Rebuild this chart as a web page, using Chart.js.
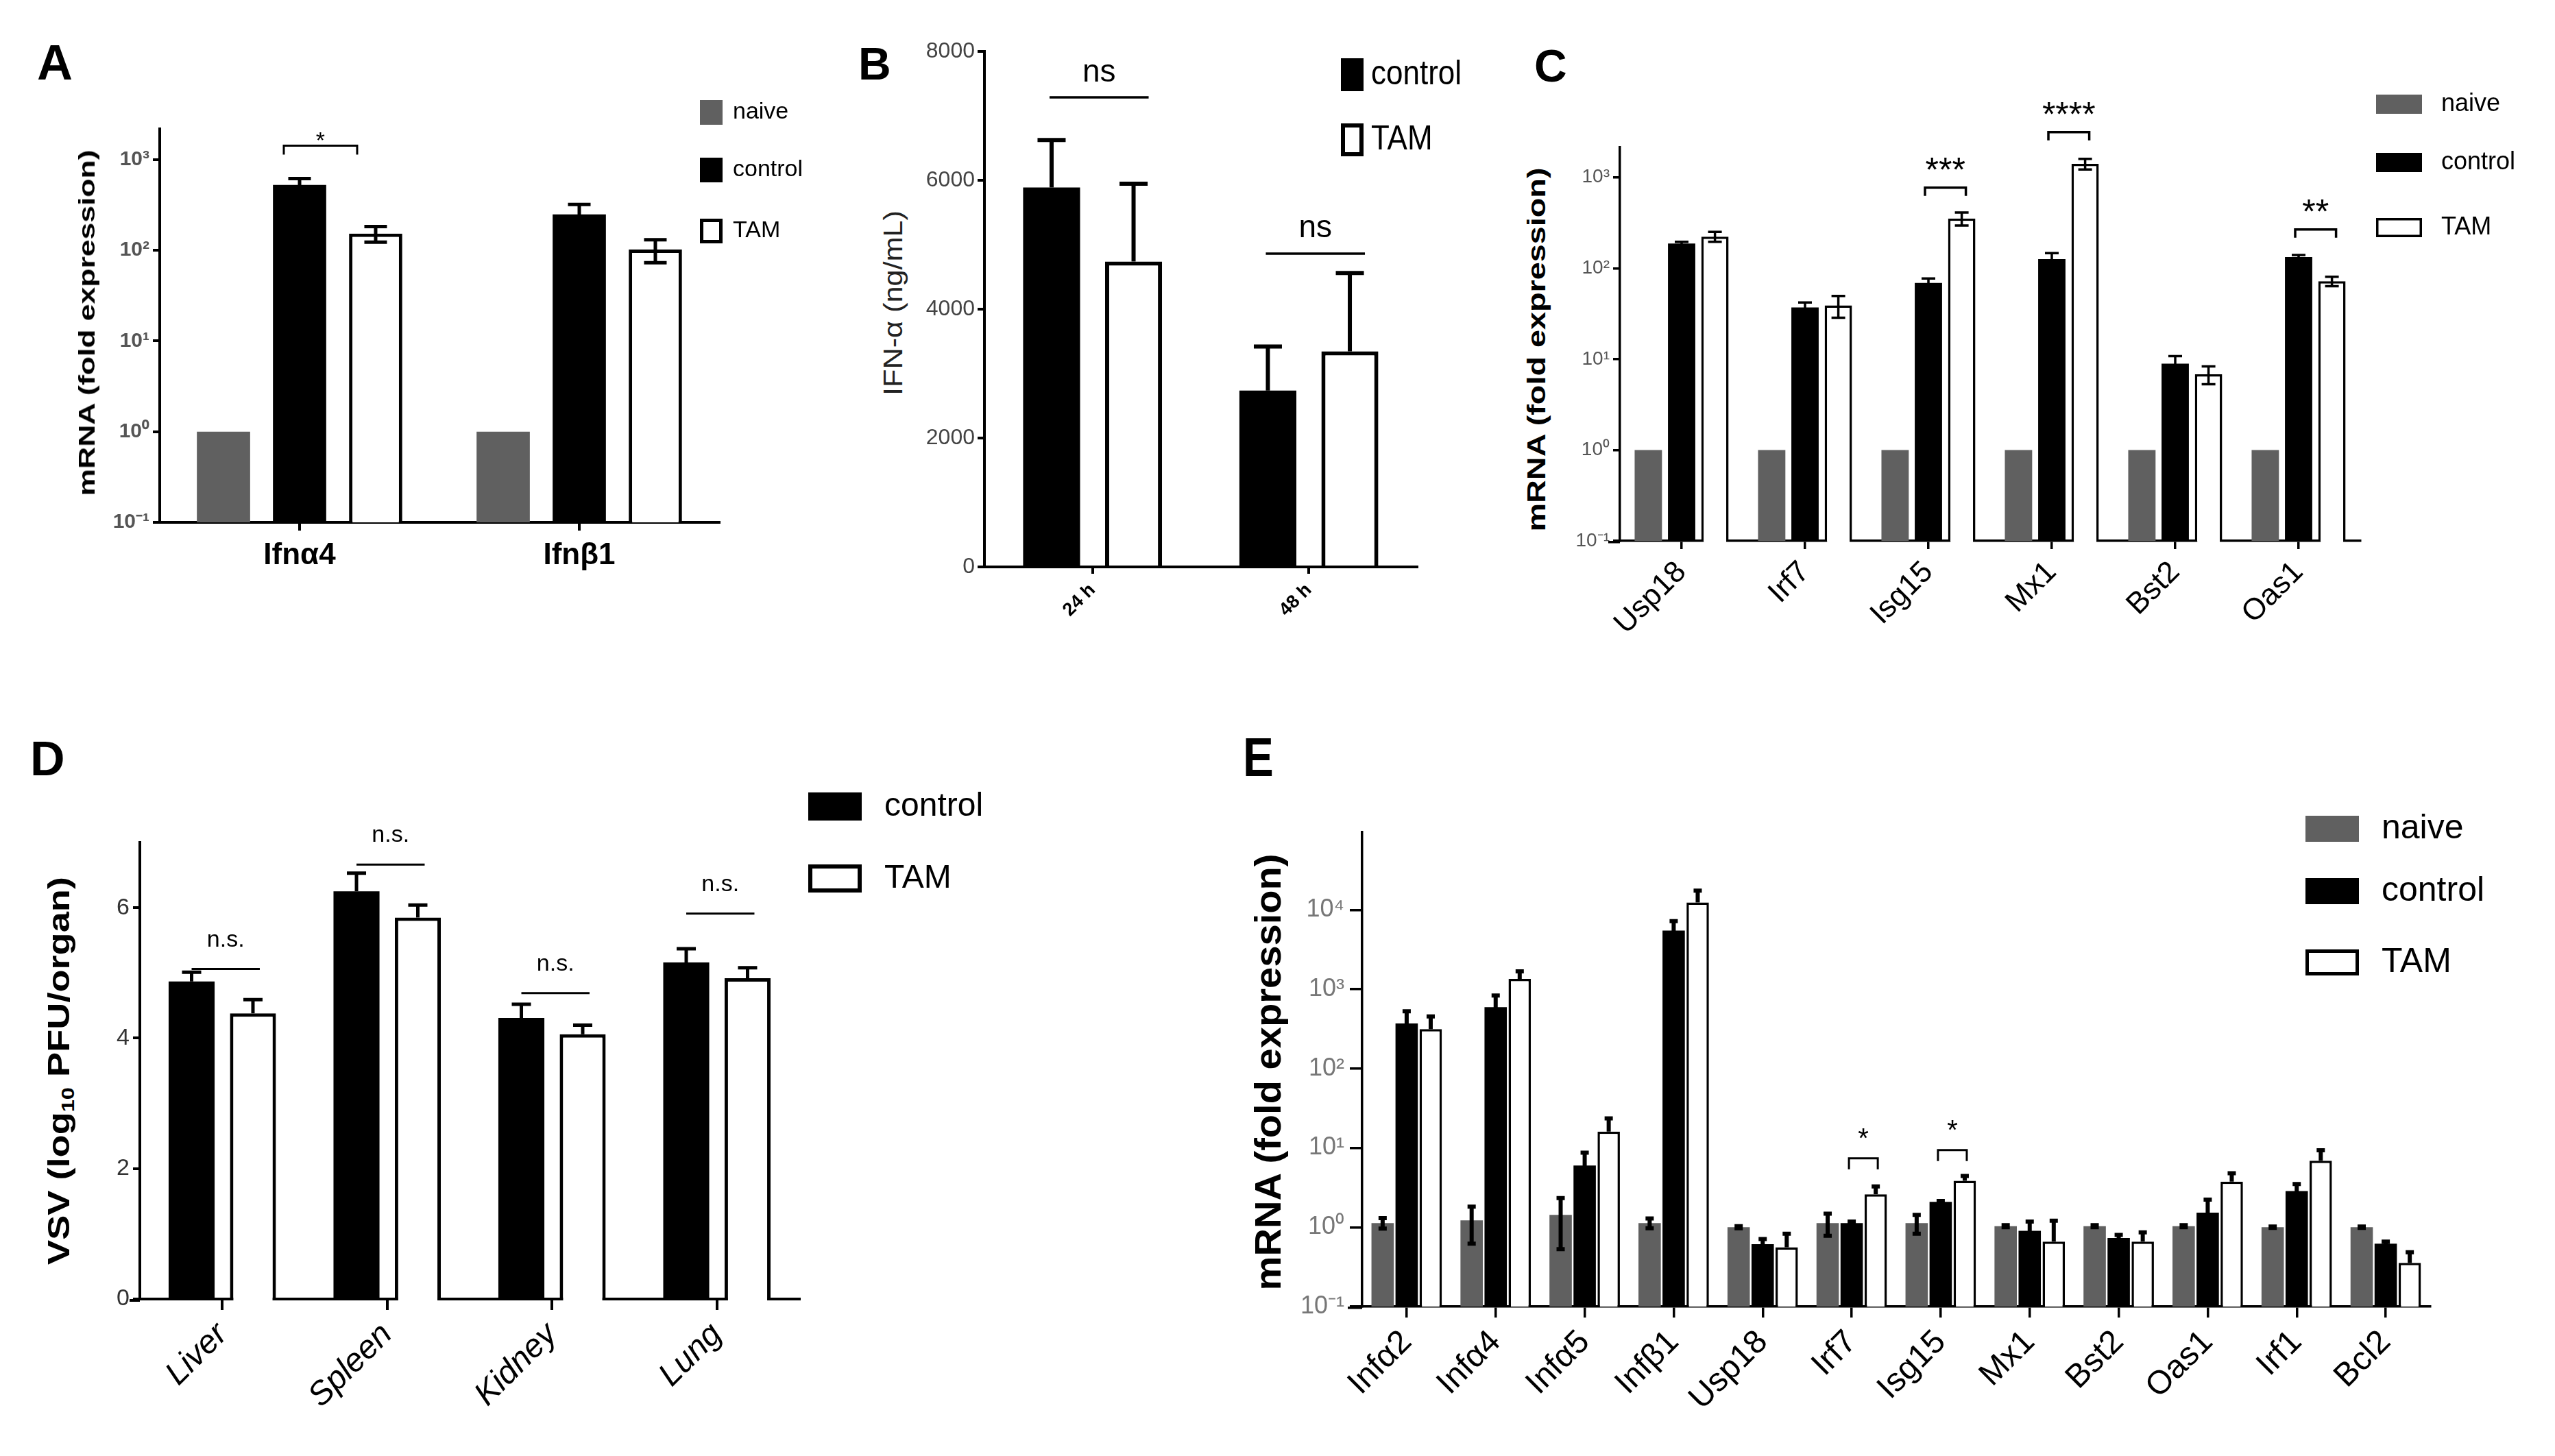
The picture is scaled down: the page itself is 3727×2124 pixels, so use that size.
<!DOCTYPE html>
<html>
<head>
<meta charset="utf-8">
<script src="https://cdn.jsdelivr.net/npm/chart.js@4.4.1/dist/chart.umd.min.js"></script>
<style>
  html, body { margin: 0; padding: 0; background: #fff; }
  #page { position: relative; width: 3727px; height: 2124px; overflow: hidden; background: #fff; }
  #page canvas { position: absolute; }
  .lbl { position: absolute; white-space: nowrap; color: #000; line-height: 1; }
</style>
</head>
<body>
<div id="page"></div>
<script>
// ================= DATA =================
// Panel A
const catsA = ['Ifnα4', 'Ifnβ1'];
const naiveA = [1, 1];
const controlA = [528, 249];
const controlAErr = [92, 72];
const tamA = [153, 102];
const tamAErr = [30, 29];

// Panel B
const catsB = ['24 h', '48 h'];
const controlB = [5887, 2736];
const controlBErr = [739, 684];
const tamB = [4739, 3347];
const tamBErr = [1209, 1215];
const ticksB = [0, 2000, 4000, 6000, 8000];

// Panel C
const catsC = ['Usp18', 'Irf7', 'Isg15', 'Mx1', 'Bst2', 'Oas1'];
const naiveC = [1, 1, 1, 1, 1, 1];
const controlC = [187, 37, 69, 126, 8.9, 133];
const controlCErr = [8, 5, 8, 21, 1.9, 7];
const tamC = [223, 39, 353, 1410, 6.8, 72];
const tamCErr = [28, 10.5, 58, 190, 1.5, 8.5];

// Panel D
const catsD = ['Liver', 'Spleen', 'Kidney', 'Lung'];
const controlD = [4.87, 6.25, 4.31, 5.16];
const controlDErr = [0.14, 0.28, 0.21, 0.21];
const tamD = [4.38, 5.85, 4.06, 4.92];
const tamDErr = [0.21, 0.19, 0.14, 0.16];
const ticksD = [0, 2, 4, 6];

// Panel E
const catsE = ['Infα2', 'Infα4', 'Infα5', 'Infβ1', 'Usp18', 'Irf7', 'Isg15', 'Mx1', 'Bst2', 'Oas1', 'Irf1', 'Bcl2'];
const naiveE = [1.13, 1.22, 1.43, 1.13, 1.0, 1.13, 1.13, 1.03, 1.03, 1.03, 1.0, 1.0];
const naiveEErr = [0.17, 0.6, 0.9, 0.16, 0.03, 0.35, 0.3, 0.03, 0.03, 0.03, 0.02, 0.02];
const controlE = [371, 596, 6.0, 5490, 0.61, 1.13, 2.09, 0.90, 0.73, 1.53, 2.86, 0.62];
const controlEErr = [157, 239, 2.7, 1740, 0.1, 0.05, 0.05, 0.28, 0.07, 0.7, 0.64, 0.04];
const tamE = [314, 1348, 16.1, 12450, 0.56, 2.6, 3.85, 0.66, 0.66, 3.75, 6.9, 0.355];
const tamEErr = [141, 332, 7.5, 5050, 0.27, 0.67, 0.57, 0.55, 0.2, 1.04, 2.45, 0.13];

// log tick values / labels
const logTicks3 = [0.1, 1, 10, 100, 1000];
const logTicks4 = [0.1, 1, 10, 100, 1000, 10000];
const logTickLabels = ['10⁻¹', '10⁰', '10¹', '10²', '10³', '10⁴'];

// significance marks (value in data units on the y axis)
const sigA = [{ cat: 0, from: 1, to: 2, value: 1428, text: '*' }];
const sigB = [{ cat: 0, from: 0, to: 1, value: 7287, text: 'ns' }, { cat: 1, from: 0, to: 1, value: 4862, text: 'ns' }];
const sigC = [{ cat: 2, from: 1, to: 2, value: 771, text: '***' }, { cat: 3, from: 1, to: 2, value: 3150, text: '****' }, { cat: 5, from: 1, to: 2, value: 267, text: '**' }];
const sigD = [{ cat: 0, from: 0, to: 1, value: 5.06, text: 'n.s.' }, { cat: 1, from: 0, to: 1, value: 6.66, text: 'n.s.' }, { cat: 2, from: 0, to: 1, value: 4.69, text: 'n.s.' }, { cat: 3, from: 0, to: 1, value: 5.91, text: 'n.s.' }];
const sigE = [{ cat: 5, from: 1, to: 2, value: 7.4, text: '*' }, { cat: 6, from: 1, to: 2, value: 9.4, text: '*' }];

// ================= STYLE / HELPERS =================
const FONT = "'Liberation Sans', Arial, sans-serif";
const NAIVE = '#606060';
const page = document.getElementById('page');

function logLabel(ticks) {
  return v => { const i = ticks.indexOf(v); return i >= 0 ? logTickLabels[i] : ''; };
}

function naiveSet(data, err, lbl) {
  return { label: lbl || 'naive', data, errors: err || null, backgroundColor: NAIVE, borderWidth: 0 };
}
function controlSet(data, err) {
  return { label: 'control', data, errors: err, backgroundColor: '#000', borderWidth: 0 };
}
function tamSet(data, err, bw, upOnly) {
  return { label: 'TAM', data, errors: err, errUpOnly: !!upOnly, backgroundColor: '#fff', borderColor: '#000', borderWidth: bw };
}

const errorBars = {
  id: 'errorBars',
  afterDatasetsDraw(chart, args, o) {
    const ctx = chart.ctx, ys = chart.scales.y, ca = chart.chartArea;
    chart.data.datasets.forEach((d, i) => {
      const meta = chart.getDatasetMeta(i);
      // open (white) bars hide the axis line underneath them
      if (o.cover && d.borderWidth) {
        meta.data.forEach(bar => {
          ctx.save();
          ctx.fillStyle = '#fff';
          ctx.fillRect(bar.x - bar.width / 2 + d.borderWidth, ca.bottom - 2, bar.width - 2 * d.borderWidth, o.coverH);
          ctx.restore();
        });
      }
      if (!d.errors) return;
      meta.data.forEach((bar, j) => {
        const e = d.errors[j];
        if (!e) return;
        const v = d.data[j];
        const x = bar.x;
        const yTop = ys.getPixelForValue(v + e);
        const up = d.errUpOnly || o.upOnly;
        const lowV = v - e;
        const yBot = up ? bar.y : ys.getPixelForValue(Math.max(lowV, ys.min));
        ctx.save();
        ctx.strokeStyle = '#000';
        ctx.lineWidth = o.width;
        ctx.beginPath();
        ctx.moveTo(x, yTop); ctx.lineTo(x, yBot);
        ctx.moveTo(x - o.cap / 2, yTop); ctx.lineTo(x + o.cap / 2, yTop);
        if (!up && lowV > ys.min) { ctx.moveTo(x - o.cap / 2, yBot); ctx.lineTo(x + o.cap / 2, yBot); }
        ctx.stroke();
        ctx.restore();
      });
    });
  }
};

const boxLegend = {
  id: 'boxLegend',
  afterDraw(chart, args, o) {
    if (!o || !o.ys) return;
    const ctx = chart.ctx;
    chart.data.datasets.forEach((d, i) => {
      const bx = o.x - o.ox, by = o.ys[i] - o.oy;
      ctx.save();
      ctx.fillStyle = d.backgroundColor;
      ctx.fillRect(bx, by, o.w, o.h);
      if (d.borderWidth) {
        ctx.lineWidth = o.bw; ctx.strokeStyle = '#000';
        ctx.strokeRect(bx + o.bw / 2, by + o.bw / 2, o.w - o.bw, o.h - o.bw);
      }
      ctx.font = o.font; ctx.fillStyle = '#000'; ctx.textBaseline = 'middle'; ctx.textAlign = 'left';
      ctx.translate(o.tx - o.ox, by + o.h / 2 + (o.tdy || 0));
      ctx.scale(o.sx || 1, 1);
      ctx.fillText(d.label, 0, 0);
      ctx.restore();
    });
  }
};

const sigMarks = {
  id: 'sigMarks',
  afterDraw(chart, args, o) {
    const ctx = chart.ctx, ys = chart.scales.y, ca = chart.chartArea;
    if (o.axisExt) {
      ctx.save(); ctx.strokeStyle = '#000'; ctx.lineWidth = o.axisW;
      ctx.beginPath(); ctx.moveTo(ca.left - o.axisExt, ca.bottom + o.axisW / 2); ctx.lineTo(ca.left, ca.bottom + o.axisW / 2); ctx.stroke(); ctx.restore();
    }
    (o.items || []).forEach(it => {
      const a = chart.getDatasetMeta(it.from).data[it.cat];
      const b = chart.getDatasetMeta(it.to).data[it.cat];
      const x1 = a.x + o.offL, x2 = b.x + o.offR;
      const y = ys.getPixelForValue(it.value);
      ctx.save();
      ctx.strokeStyle = '#000'; ctx.lineWidth = o.lw;
      ctx.beginPath();
      if (o.drop) { ctx.moveTo(x1, y + o.drop); ctx.lineTo(x1, y); ctx.lineTo(x2, y); ctx.lineTo(x2, y + o.drop); }
      else { ctx.moveTo(x1, y); ctx.lineTo(x2, y); }
      ctx.stroke();
      ctx.font = o.font; ctx.fillStyle = '#000'; ctx.textAlign = 'center'; ctx.textBaseline = 'alphabetic';
      const m = ctx.measureText(it.text);
      const c = y - o.dy;
      const base = c + (m.actualBoundingBoxAscent - m.actualBoundingBoxDescent) / 2;
      ctx.fillText(it.text, (x1 + x2) / 2, base);
      ctx.restore();
    });
  }
};

function makePanel(p) {
  const [bx0, by0, bx1, by1] = p.box;
  const [l, t, r, b] = p.area;
  const cv = document.createElement('canvas');
  cv.width = bx1 - bx0; cv.height = by1 - by0;
  cv.style.left = bx0 + 'px'; cv.style.top = by0 + 'px';
  cv.style.width = (bx1 - bx0) + 'px'; cv.style.height = (by1 - by0) + 'px';
  page.appendChild(cv);
  const yW = l - bx0, xH = by1 - b;
  return new Chart(cv.getContext('2d'), {
    type: 'bar',
    data: { labels: p.labels, datasets: p.datasets },
    options: {
      responsive: false, animation: false, devicePixelRatio: 1, events: [],
      layout: { autoPadding: false, padding: { left: 0, top: t - by0, right: bx1 - r, bottom: 0 } },
      datasets: { bar: { categoryPercentage: p.cp, barPercentage: p.bp } },
      plugins: {
        legend: { display: false }, tooltip: { enabled: false },
        errorBars: Object.assign({ coverH: p.axisW + 4 }, p.err),
        boxLegend: Object.assign({ ox: bx0, oy: by0 }, p.legend),
        sigMarks: Object.assign({ axisW: p.axisW }, p.sig)
      },
      scales: {
        x: {
          type: 'category',
          grid: { display: true, drawOnChartArea: false, offset: false, drawTicks: true, tickLength: p.xTickLen, tickWidth: p.axisW, tickColor: '#000', color: '#000', lineWidth: p.axisW },
          border: { display: true, color: '#000', width: p.axisW },
          ticks: { autoSkip: false, maxRotation: p.rot, minRotation: p.rot, padding: p.xPad, color: '#000', font: p.xFont },
          afterFit: s => { s.height = xH; }
        },
        y: {
          type: p.yType, min: p.yMin, max: p.yMax,
          grid: { display: true, drawOnChartArea: false, drawTicks: true, tickLength: p.yTickLen, tickWidth: p.axisW, tickColor: '#000', color: '#000', lineWidth: p.axisW },
          border: { display: true, color: '#000', width: p.axisW },
          ticks: { padding: p.yPad, color: p.yTickColor, font: p.yFont, autoSkip: false, callback: p.yLabel },
          afterBuildTicks: s => { s.ticks = p.yTicks.map(v => ({ value: v })); },
          afterFit: s => { s.width = yW; }
        }
      }
    },
    plugins: [errorBars, boxLegend, sigMarks]
  });
}

function letter(ch, x, capTop, size, sx) {
  const d = document.createElement('div');
  d.className = 'lbl'; d.textContent = ch;
  d.style.font = `bold ${size}px ${FONT}`; d.style.lineHeight = '1';
  d.style.left = x + 'px'; d.style.top = (capTop - 0.1305 * size) + 'px';
  d.style.transformOrigin = 'left top';
  d.style.transform = `scaleX(${sx || 1})`;
  page.appendChild(d);
}

function vtitle(html, cx, cy, size, weight, len, color) {
  const d = document.createElement('div');
  d.className = 'lbl'; d.innerHTML = html;
  d.style.font = `${weight} ${size}px ${FONT}`; d.style.lineHeight = '1';
  d.style.color = color || '#000';
  page.appendChild(d);
  const w = d.getBoundingClientRect().width;
  const sx = len / w;
  d.style.left = cx + 'px'; d.style.top = cy + 'px';
  d.style.transform = `translate(-50%,-50%) rotate(-90deg) scaleX(${sx})`;
}

// ================= PANELS =================
// A
makePanel({
  box: [140, 130, 1200, 880], area: [233, 188, 1049, 762],
  labels: catsA,
  datasets: [naiveSet(naiveA), controlSet(controlA, controlAErr), tamSet(tamA, tamAErr, 5)],
  cp: 0.816, bp: 0.70, axisW: 4,
  yType: 'logarithmic', yMin: 0.1, yMax: 2188, yTicks: logTicks3, yLabel: logLabel(logTicks3),
  yTickLen: 10, yPad: 5, yTickColor: '#555', yFont: { family: FONT, size: 30, weight: 'bold' },
  xTickLen: 12, xPad: 10, rot: 0, xFont: { family: FONT, size: 44, weight: 'bold' },
  err: { width: 5, cap: 33 },
  legend: { x: 1021, ys: [146, 230, 319], w: 33, h: 36, bw: 5, tx: 1069, font: `34px ${FONT}` },
  sig: { items: sigA, lw: 3, drop: 13, font: `34px ${FONT}`, dy: 14, offL: -23, offR: -27 }
});

// B
makePanel({
  box: [1330, 20, 2200, 960], area: [1436, 75, 2067, 827],
  labels: catsB,
  datasets: [controlSet(controlB, controlBErr), tamSet(tamB, tamBErr, 6)],
  cp: 0.758, bp: 0.695, axisW: 4,
  yType: 'linear', yMin: 0, yMax: 8000, yTicks: ticksB, yLabel: v => String(v),
  yTickLen: 10, yPad: 4, yTickColor: '#444', yFont: { family: FONT, size: 32 },
  xTickLen: 10, xPad: 8, rot: 45, xFont: { family: FONT, size: 27, weight: 'bold' },
  err: { width: 6, cap: 41, upOnly: true },
  legend: { x: 1956, ys: [85, 180], w: 33, h: 48, bw: 6, tx: 2000, font: `50px ${FONT}`, sx: 0.88 },
  sig: { items: sigB, lw: 3.5, drop: 0, font: `46px ${FONT}`, dy: 36, offL: -3, offR: 22 }
});

// C
makePanel({
  box: [2270, 120, 3727, 1010], area: [2363, 215, 3443, 789],
  labels: catsC,
  datasets: [naiveSet(naiveC), controlSet(controlC, controlCErr), tamSet(tamC, tamCErr, 3.5)],
  cp: 0.81, bp: 0.82, axisW: 3.5,
  yType: 'logarithmic', yMin: 0.1, yMax: 2138, yTicks: logTicks3, yLabel: logLabel(logTicks3),
  yTickLen: 10, yPad: 5, yTickColor: '#555', yFont: { family: FONT, size: 28 },
  xTickLen: 12, xPad: 8, rot: 45, xFont: { family: FONT, size: 44 },
  err: { width: 3.5, cap: 20, cover: true },
  legend: { x: 3466, ys: [138, 223, 318], w: 67, h: 28, bw: 3.5, tx: 3561, font: `36px ${FONT}` },
  sig: { items: sigC, lw: 3.5, drop: 12, font: `50px ${FONT}`, dy: 35, offL: -5, offR: 6, axisExt: 17 }
});

// D
makePanel({
  box: [120, 1140, 1500, 2124], area: [204, 1229, 1166, 1895],
  labels: catsD,
  datasets: [controlSet(controlD, controlDErr), tamSet(tamD, tamDErr, 5)],
  cp: 0.744, bp: 0.75, axisW: 4,
  yType: 'linear', yMin: 0, yMax: 7, yTicks: ticksD, yLabel: v => String(v),
  yTickLen: 10, yPad: 5, yTickColor: '#333', yFont: { family: FONT, size: 34 },
  xTickLen: 16, xPad: 8, rot: 45, xFont: { family: FONT, size: 48, style: 'italic' },
  err: { width: 5, cap: 28, upOnly: true, cover: true },
  legend: { x: 1179, ys: [1156, 1261], w: 78, h: 41, bw: 6, tx: 1290, font: `48px ${FONT}` },
  sig: { items: sigD, lw: 3, drop: 0, font: `34px ${FONT}`, dy: 42, offL: 0, offR: 10, axisExt: 15 }
});

// E
makePanel({
  box: [1880, 1150, 3727, 2124], area: [1987, 1214, 3545, 1906],
  labels: catsE,
  datasets: [naiveSet(naiveE, naiveEErr), controlSet(controlE, controlEErr), tamSet(tamE, tamEErr, 3.5, true)],
  cp: 0.81, bp: 0.93, axisW: 3.5,
  yType: 'logarithmic', yMin: 0.1, yMax: 95500, yTicks: logTicks4, yLabel: logLabel(logTicks4),
  yTickLen: 18, yPad: 8, yTickColor: '#777', yFont: { family: FONT, size: 36 },
  xTickLen: 16, xPad: 8, rot: 45, xFont: { family: FONT, size: 48 },
  err: { width: 6, cap: 12 },
  legend: { x: 3363, ys: [1190, 1281, 1385], w: 78, h: 38, bw: 5, tx: 3474, font: `50px ${FONT}` },
  sig: { items: sigE, lw: 3, drop: 16, font: `40px ${FONT}`, dy: 36, offL: -4, offR: 3, axisExt: 21 }
});

// ================= LETTERS & AXIS TITLES =================
letter('A', 54, 64, 72);
letter('B', 1252, 69, 66);
letter('C', 2238, 72, 66);
letter('D', 44, 1081, 70);
letter('E', 1813, 1075, 80, 0.84);

vtitle('mRNA (fold expression)', 126, 471, 34, 'bold', 505);
vtitle('IFN-α (ng/mL)', 1303, 442, 38, 'normal', 270, '#222');
vtitle('mRNA (fold expression)', 2242, 510, 36, 'bold', 531);
vtitle('VSV (log<sub style="font-size:0.6em;vertical-align:-0.25em">10</sub> PFU/organ)', 88, 1562, 44, 'bold', 566);
vtitle('mRNA (fold expression)', 1849, 1564, 54, 'bold', 637);
</script>
</body>
</html>
